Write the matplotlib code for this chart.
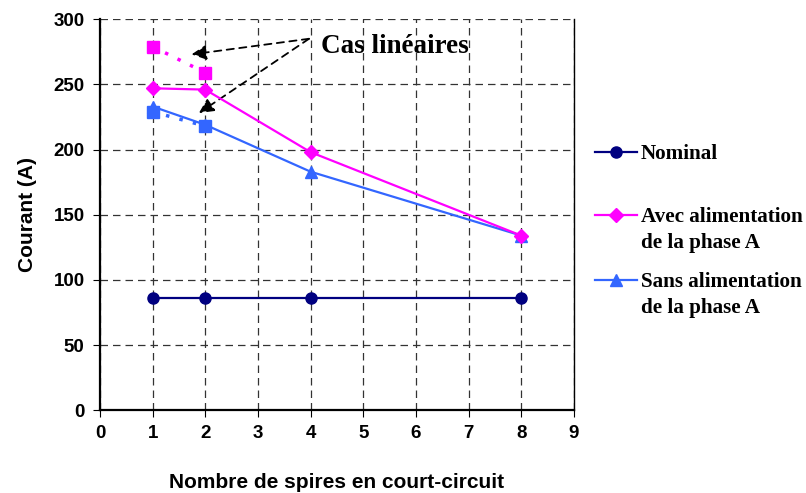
import matplotlib.pyplot as plt
from matplotlib.lines import Line2D

# nombre de spires en court-circuit
spires = [1, 2, 4, 8]
nominal = [86, 86, 86, 86]
avec_alim = [247, 246, 198, 134]
sans_alim = [233, 219, 183, 134]

# cas linéaires (1 et 2 spires)
spires_lin = [1, 2]
avec_lin = [279, 259]
sans_lin = [229, 218]

NAVY = '#000080'
MAGENTA = '#FF00FF'
BLUE = '#3366FF'

fig = plt.figure(figsize=(8.06, 4.93), dpi=100)
ax = fig.add_axes([0.124, 0.168, 0.588, 0.793])

ax.plot(spires_lin, avec_lin, color=MAGENTA, ls=(0, (1, 3)), lw=2.5,
        marker='s', ms=9, zorder=3)
ax.plot(spires_lin, sans_lin, color=BLUE, ls=(0, (1, 3)), lw=2.5,
        marker='s', ms=9, zorder=3)
ax.plot(spires, nominal, color=NAVY, lw=1.6, marker='o', ms=8, zorder=4)
ax.plot(spires, avec_alim, color=MAGENTA, lw=1.6, marker='D', ms=7.5,
        zorder=4)
ax.plot(spires, sans_alim, color=BLUE, lw=1.6, marker='^', ms=8, zorder=2)

ax.set_xlim(0, 9)
ax.set_ylim(0, 300)
ax.set_xticks(range(0, 10))
ax.set_yticks(range(0, 301, 50))
ax.grid(True, color='#333333', ls=(0, (6, 4)), lw=0.9)
ax.set_axisbelow(True)
ax.spines['top'].set_visible(False)
ax.spines['right'].set_linewidth(1.0)
ax.spines['left'].set_linewidth(1.6)
ax.spines['bottom'].set_linewidth(1.6)
ax.tick_params(direction='out', length=5, width=0.8, pad=6)
for lab in ax.get_xticklabels() + ax.get_yticklabels():
    lab.set_fontfamily('Liberation Sans')
    lab.set_fontweight('bold')
    lab.set_fontsize(13.5)

ax.set_ylabel('Courant (A)', fontfamily='Liberation Sans', fontweight='bold',
              fontsize=15, labelpad=12)
ax.set_xlabel('Nombre de spires en court-circuit', fontfamily='Liberation Sans',
              fontweight='bold', fontsize=15, labelpad=22)

# annotation des cas linéaires
ax.text(4.2, 279, 'Cas linéaires', fontfamily='Liberation Serif',
        fontweight='bold', fontsize=19.5, va='center', ha='left')
for tgt in [(1.74, 273), (1.88, 228)]:
    ax.annotate('', xy=tgt, xytext=(3.97, 285),
                arrowprops=dict(arrowstyle='-|>', ls=(0, (4, 3)), lw=1.3,
                                color='black', mutation_scale=22,
                                shrinkA=0, shrinkB=0))

# légende
leg = [
    (NAVY, 'o', 8, 'Nominal', 152),
    (MAGENTA, 'D', 7.5, 'Avec alimentation\nde la phase A', 215),
    (BLUE, '^', 8, 'Sans alimentation\nde la phase A', 280),
]
W, H = 806, 493
for color, mk, ms, label, py in leg:
    y = 1 - py / H
    fig.add_artist(Line2D([595 / W, 637 / W], [y, y], color=color, lw=1.6,
                          transform=fig.transFigure))
    fig.add_artist(Line2D([616 / W], [y], color=color, marker=mk, ms=ms,
                          transform=fig.transFigure))
    fig.text(641 / W, y + 8 / H, label, fontfamily='Liberation Serif',
             fontweight='bold', fontsize=15.2, va='top', ha='left',
             linespacing=1.4, transform=fig.transFigure)

fig.savefig('out.png', dpi=100)
